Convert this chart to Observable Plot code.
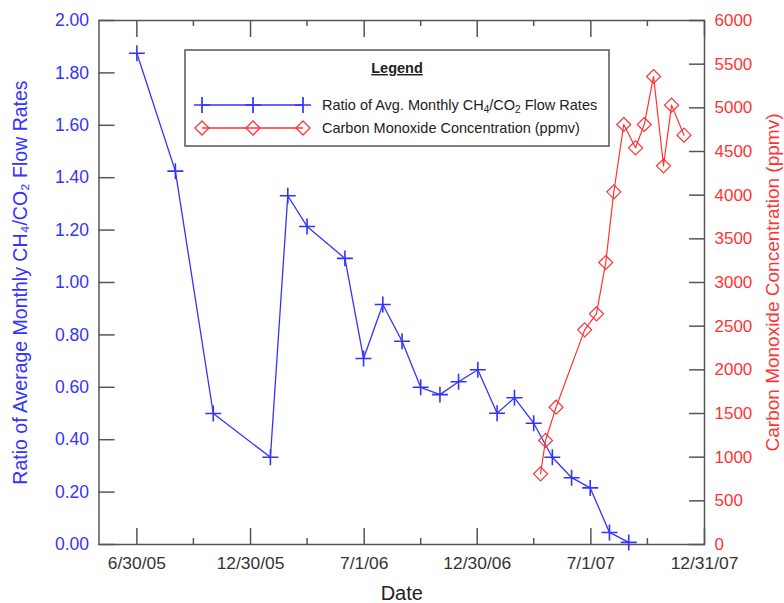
<!DOCTYPE html>
<html><head><meta charset="utf-8">
<script src="https://cdn.jsdelivr.net/npm/d3@7"></script>
<script src="https://cdn.jsdelivr.net/npm/@observablehq/plot@0.6"></script>
<style>
body{margin:0;background:#fff;}
#wrap{position:relative;width:784px;height:603px;font-family:"Liberation Sans",Arial,sans-serif;}
#legend{position:absolute;left:0;top:0;pointer-events:none;}
</style></head><body><div id="wrap"></div>
<script>
// ---- data ----
const ratioDates = ["2005-06-30","2005-08-31","2005-10-31","2006-01-31","2006-02-28","2006-03-31","2006-05-31","2006-06-30","2006-07-31","2006-08-31","2006-09-30","2006-10-31","2006-11-30","2006-12-31","2007-01-31","2007-02-28","2007-03-31","2007-04-30","2007-05-31","2007-06-30","2007-07-31","2007-08-31"];
const ratioValues = [1.875,1.425,0.50,0.333,1.331,1.214,1.092,0.71,0.916,0.776,0.600,0.572,0.621,0.667,0.501,0.56,0.463,0.333,0.255,0.216,0.046,0.008];
const coDates = ["2007-04-11","2007-04-19","2007-05-06","2007-06-21","2007-07-10","2007-07-25","2007-08-07","2007-08-23","2007-09-11","2007-09-25","2007-10-10","2007-10-26","2007-11-08","2007-11-28"];
const coValues = [809,1191,1572,2458,2641,3229,4038,4809,4542,4809,5359,4336,5031,4687];
const xTickDates = ["2005-06-30","2005-12-30","2006-07-01","2006-12-30","2007-07-01","2007-12-31"];
const xTickLabels = ["6/30/05","12/30/05","7/1/06","12/30/06","7/1/07","12/31/07"];
const xMinorDates = ["2005-09-29","2006-03-31","2006-09-30","2007-03-31","2007-09-30"];
const leftTicks = [0,0.2,0.4,0.6,0.8,1.0,1.2,1.4,1.6,1.8,2.0];
const rightTicks = [0,500,1000,1500,2000,2500,3000,3500,4000,4500,5000,5500,6000];
const xDomain = ["2005-04-30","2007-12-31"];
const xTitle = "Date";
const yLeftTitle = "Ratio of Average Monthly CH₄/CO₂ Flow Rates";
const yRightTitle = "Carbon Monoxide Concentration (ppmv)";

const BLUE = "#3333ff", RED = "#ff3333", AX = "#555555";
const FONT = '"Liberation Sans",Arial,sans-serif';
const ratio = ratioDates.map((d,i)=>({date:new Date(d), value:ratioValues[i]}));
const co = coDates.map((d,i)=>({date:new Date(d), ppm:coValues[i]}));
const xMajor = xTickDates.map(d=>new Date(d));
const xMinor = xMinorDates.map(d=>new Date(d));
const coScale = 2/6000; // right axis max 6000 maps to left max 2.00
const rightPos = rightTicks.map(v=>v*coScale);
const xLabel = d => xTickLabels[xMajor.findIndex(t=>+t===+d)];

const chart = Plot.plot({
  width:784, height:603,
  marginLeft:98.5, marginRight:80, marginTop:20, marginBottom:59,
  style:{fontFamily:FONT, fontSize:"17px", background:"#fff"},
  x:{type:"utc", domain:xDomain.map(d=>new Date(d))},
  y:{domain:[0,2]},
  marks:[
    Plot.frame({stroke:AX, strokeWidth:1.5}),
    Plot.axisX(xMajor, {anchor:"bottom", tickSize:-16, fill:"none", stroke:AX, strokeWidth:1.5}),
    Plot.axisX(xMinor, {anchor:"bottom", tickSize:-6, fill:"none", stroke:AX, strokeWidth:1.5}),
    Plot.axisX(xMajor, {anchor:"top", tickSize:-16, fill:"none", stroke:AX, strokeWidth:1.5}),
    Plot.axisX(xMinor, {anchor:"top", tickSize:-5, fill:"none", stroke:AX, strokeWidth:1.5}),
    Plot.axisX(xMajor, {anchor:"bottom", tickSize:0, tickPadding:12, tickFormat:xLabel, fill:"#333", fontSize:17.4, label:null}),
    Plot.axisY(leftTicks, {anchor:"left", tickSize:-16, fill:"none", stroke:AX, strokeWidth:1.5}),
    Plot.axisY(leftTicks, {anchor:"left", tickSize:0, tickPadding:10, tickFormat:d=>d.toFixed(2), fill:BLUE, fontSize:17.5, label:null}),
    Plot.axisY(rightPos, {anchor:"right", tickSize:-16, fill:"none", stroke:AX, strokeWidth:1.5}),
    Plot.axisY(rightPos, {anchor:"right", tickSize:0, tickPadding:10, tickFormat:v=>String(Math.round(v/coScale)), fill:RED, fontSize:17, label:null}),
    Plot.text([xTitle], {frameAnchor:"bottom", dy:49, fontSize:20, fill:"#222", textAnchor:"middle", lineAnchor:"middle"}),
    Plot.text([yLeftTitle], {frameAnchor:"left", rotate:-90, dx:-78, fontSize:19.5, fill:BLUE, textAnchor:"middle", lineAnchor:"middle"}),
    Plot.text([yRightTitle], {frameAnchor:"right", rotate:-90, dx:68, fontSize:19, fill:RED, textAnchor:"middle", lineAnchor:"middle"}),
    Plot.line(ratio, {x:"date", y:"value", stroke:BLUE, strokeWidth:1.3}),
    Plot.dot(ratio, {x:"date", y:"value", symbol:"plus", r:5.2, stroke:BLUE, strokeWidth:1.6}),
    Plot.line(co, {x:"date", y:d=>d.ppm*coScale, stroke:RED, strokeWidth:1.2}),
    Plot.dot(co, {x:"date", y:d=>d.ppm*coScale, symbol:"diamond2", r:6.3, stroke:RED, fill:"none", strokeWidth:1.2})
  ]
});
const wrap = document.getElementById("wrap");
wrap.appendChild(chart);

// ---- legend overlay ----
const ns = "http://www.w3.org/2000/svg";
const lg = document.createElementNS(ns,"svg");
lg.setAttribute("id","legend"); lg.setAttribute("width",784); lg.setAttribute("height",603);
lg.innerHTML = `
<rect x="185" y="50" width="424" height="96" fill="#fff" stroke="${AX}" stroke-width="1.5"/>
<text x="397" y="73" text-anchor="middle" font-weight="bold" font-size="14.5" fill="#222" text-decoration="underline" font-family="Liberation Sans, Arial, sans-serif">Legend</text>
<g stroke="${BLUE}" stroke-width="1.5" fill="none">
<line x1="202" x2="303" y1="105" y2="105"/>
${[202,253,303].map(x=>`<path d="M${x-8},105H${x+8}M${x},97V113" stroke-width="1.7"/>`).join("")}
</g>
<g stroke="${RED}" stroke-width="1.3" fill="none">
<line x1="202" x2="303" y1="128" y2="128"/>
${[202,253,303].map(x=>`<path d="M${x},121L${x+7},128L${x},135L${x-7},128Z"/>`).join("")}
</g>
<g font-size="14.5" fill="#222" font-family="Liberation Sans, Arial, sans-serif">
<text x="322" y="110">Ratio of Avg. Monthly CH<tspan font-size="10" dy="3">4</tspan><tspan dy="-3">/CO</tspan><tspan font-size="10" dy="3">2</tspan><tspan dy="-3"> Flow Rates</tspan></text>
<text x="322" y="133">Carbon Monoxide Concentration (ppmv)</text>
</g>`;
wrap.appendChild(lg);
</script></body></html>
